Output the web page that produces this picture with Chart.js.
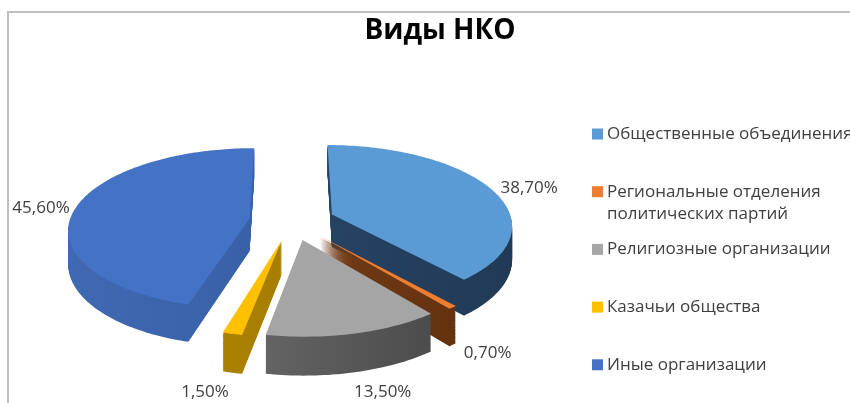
<!DOCTYPE html>
<html>
<head>
<meta charset="utf-8">
<script src="https://cdn.jsdelivr.net/npm/chart.js@4"></script>
<style>
html, body { margin: 0; padding: 0; background: #fff; }
</style>
</head>
<body>
<canvas id="myChart" width="850" height="403"></canvas>
<script>
// chart data
const Labels = ['Общественные объединения', ['Региональные отделения', 'политических партий'], 'Религиозные организации', 'Казачьи общества', 'Иные организации'];
const Values = [38.7, 0.7, 13.5, 1.5, 45.6];

// colours: top face, side wall light / dark
const TopColors = ['#5B9BD5', '#ED7D31', '#A5A5A5', '#FFC000', '#4472C4'];
const SideLight = ['#2E5075', '#8A4A1E', '#808080', '#B38700', '#4069B3'];
const SideDark = ['#213955', '#5E2E0E', '#3F3F3F', '#9A7300', '#2F5597'];

// where and how the tilted pie sits (tilt = squash, persp = front bigger than back)
const pieX = 292, pieY = 221, tilt = 0.442, persp = 0.124, depth = 33;

function fmt(v) {
    return v.toFixed(2).replace('.', ',') + '%';
}

// (u, v) is a point of the flat pie relative to its centre, d the depth below the top face
function project(u, v, d, R) {
    const s = 1 / (1 - persp * v / R);
    return [pieX + u * s, pieY + (tilt * v + d) * s];
}

function slicePath(ctx, arc, d) {
    const p = arc.getProps(['startAngle', 'endAngle', 'outerRadius'], true);
    const R = p.outerRadius;
    const mid = (p.startAngle + p.endAngle) / 2;
    const off = arc.options.offset;
    const ax = Math.cos(mid) * off, ay = Math.sin(mid) * off;
    ctx.beginPath();
    let pt = project(ax, ay, d, R);
    ctx.moveTo(pt[0], pt[1]);
    const n = Math.max(2, Math.ceil((p.endAngle - p.startAngle) / 0.02));
    for (let k = 0; k <= n; k++) {
        const a = p.startAngle + (p.endAngle - p.startAngle) * k / n;
        pt = project(ax + Math.cos(a) * R, ay + Math.sin(a) * R, d, R);
        ctx.lineTo(pt[0], pt[1]);
    }
    ctx.closePath();
}

const pie3d = {
    id: 'pie3d',
    beforeDraw(chart) {
        // outer frame (only top and left edges are in view)
        const ctx = chart.ctx;
        ctx.save();
        ctx.strokeStyle = '#BFBFBF';
        ctx.lineWidth = 2;
        ctx.beginPath();
        ctx.moveTo(8, chart.height);
        ctx.lineTo(8, 12);
        ctx.lineTo(chart.width, 12);
        ctx.stroke();
        ctx.restore();
    },
    beforeDatasetsDraw(chart) {
        const ctx = chart.ctx;
        const arcs = chart.getDatasetMeta(0).data;
        ctx.save();
        // side walls, stacked from the bottom up
        for (let d = depth; d >= 1; d -= 0.75) {
            arcs.forEach(function (arc, i) {
                slicePath(ctx, arc, d);
                const g = ctx.createLinearGradient(pieX - 230, 0, pieX + 230, 0);
                g.addColorStop(0, SideLight[i]);
                g.addColorStop(1, SideDark[i]);
                ctx.fillStyle = g;
                ctx.fill();
            });
        }
        // top faces
        arcs.forEach(function (arc, i) {
            slicePath(ctx, arc, 0);
            ctx.fillStyle = TopColors[i];
            ctx.fill();
        });
        ctx.restore();
        return false;
    },
    afterDraw(chart) {
        const ctx = chart.ctx;
        const arcs = chart.getDatasetMeta(0).data;
        ctx.save();
        ctx.font = '17px "Open Sans"';
        ctx.fillStyle = '#404040';
        ctx.textBaseline = 'middle';
        // value labels outside each slice
        arcs.forEach(function (arc, i) {
            const p = arc.getProps(['startAngle', 'endAngle', 'outerRadius'], true);
            const mid = (p.startAngle + p.endAngle) / 2;
            const c = Math.cos(mid), s = Math.sin(mid);
            const R = arc.options.offset + p.outerRadius;
            let x, y;
            if (s > 0) {
                const pt = project(c * R, s * R, depth, p.outerRadius);
                const vx = c * 5, vy = s, n = Math.hypot(vx, vy);
                x = pt[0] + vx / n * 36;
                y = Math.min(pt[1] + vy / n * 36, chart.height - 11);
                ctx.textAlign = 'center';
            } else {
                const pt = project(c * R, s * R, 0, p.outerRadius);
                ctx.textAlign = c > 0 ? 'left' : 'right';
                x = pt[0] + (c > 0 ? 10 : -6);
                y = pt[1];
            }
            ctx.fillText(fmt(Values[i]), x, y);
        });
        // legend on the right
        const lx = 592, ly = 134, step = 57.7, lineH = 22;
        ctx.textAlign = 'left';
        Labels.forEach(function (label, i) {
            const y = ly + step * i;
            ctx.fillStyle = TopColors[i];
            ctx.fillRect(lx, y - 5.5, 11, 11);
            ctx.fillStyle = '#404040';
            const lines = Array.isArray(label) ? label : [label];
            lines.forEach(function (t, k) {
                ctx.fillText(t, lx + 15, y + k * lineH);
            });
        });
        ctx.restore();
    }
};

const ctx = document.getElementById('myChart').getContext('2d');
const config = {
    type: 'pie',
    data: {
        labels: Labels,
        datasets: [{
            data: Values,
            backgroundColor: TopColors,
            borderWidth: 0,
            offset: 43,
            radius: 180
        }]
    },
    options: {
        responsive: false,
        animation: false,
        events: [],
        layout: { padding: { left: 30 } },
        plugins: {
            legend: { display: false },
            tooltip: { enabled: false },
            title: {
                display: true,
                text: 'Виды НКО',
                color: '#000',
                font: { family: 'Open Sans', size: 28, weight: 'bold' },
                padding: { top: 14, bottom: 0 }
            }
        }
    },
    plugins: [pie3d]
};
const myChart = new Chart(ctx, config);
</script>
</body>
</html>
